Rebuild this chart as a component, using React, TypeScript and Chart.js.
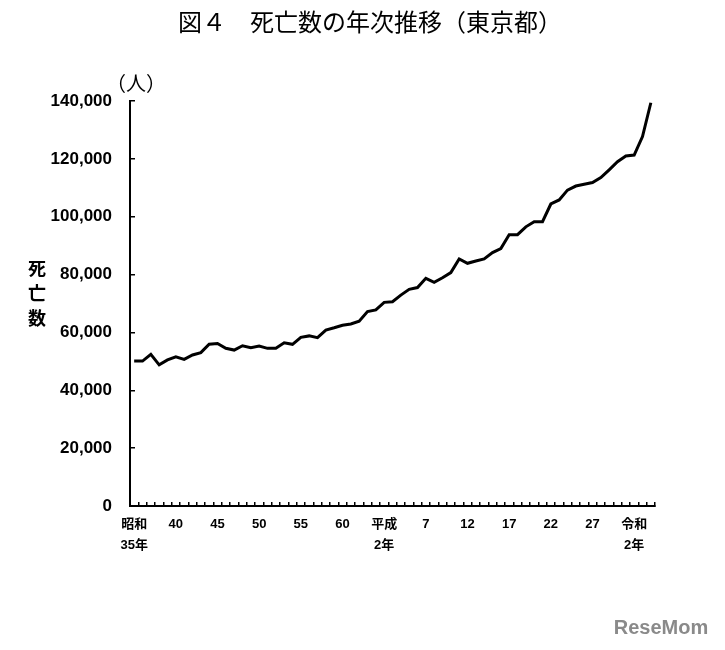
import { useEffect, useRef } from 'react';
import { Chart, registerables } from 'chart.js';

Chart.register(...registerables);

const years: string[] = [
  '1960', '1961', '1962', '1963', '1964', '1965', '1966', '1967', '1968', '1969',
  '1970', '1971', '1972', '1973', '1974', '1975', '1976', '1977', '1978', '1979',
  '1980', '1981', '1982', '1983', '1984', '1985', '1986', '1987', '1988', '1989',
  '1990', '1991', '1992', '1993', '1994', '1995', '1996', '1997', '1998', '1999',
  '2000', '2001', '2002', '2003', '2004', '2005', '2006', '2007', '2008', '2009',
  '2010', '2011', '2012', '2013', '2014', '2015', '2016', '2017', '2018', '2019',
  '2020', '2021', '2022',
];

const deaths: number[] = [
  50100, 50100, 52400, 48800, 50500, 51600, 50700, 52200, 53000, 55900,
  56200, 54500, 53900, 55400, 54700, 55300, 54500, 54500, 56400, 55900,
  58300, 58800, 58200, 60800, 61600, 62500, 62900, 63900, 67200, 67800,
  70400, 70600, 72900, 74900, 75500, 78700, 77300, 78900, 80700, 85400,
  83900, 84700, 85400, 87600, 89000, 93800, 93800, 96500, 98300, 98300,
  104400, 105800, 109200, 110600, 111200, 111800, 113500, 116200, 119000, 121000,
  121300, 127700, 139400,
];

const xTickLabels: (string | string[])[] = [
  ['昭和', '35年'], '', '', '', '', '40', '', '', '', '',
  '45', '', '', '', '', '50', '', '', '', '',
  '55', '', '', '', '', '60', '', '', '', '',
  ['平成', '2年'], '', '', '', '', '7', '', '', '', '',
  '12', '', '', '', '', '17', '', '', '', '',
  '22', '', '', '', '', '27', '', '', '', '',
  ['令和', '2年'], '', '',
];

const Y_MIN = 0;
const Y_MAX = 140000;
const Y_STEP = 20000;

const TITLE = '図４　死亡数の年次推移（東京都）';
const UNIT_LABEL = '（人）';
const Y_TITLE_CHARS = ['死', '亡', '数'];
const WATERMARK = 'ReseMom';

const LATIN = '"Liberation Sans", Arial, "Noto Sans CJK JP", sans-serif';
const CJK = '"Noto Sans CJK JP", sans-serif';

const textPlugin = {
  id: 'extraTexts',
  afterDraw(chart: any) {
    const { ctx, chartArea } = chart;
    ctx.save();
    ctx.fillStyle = '#000';
    ctx.textAlign = 'center';
    ctx.textBaseline = 'middle';
    ctx.font = `24px ${CJK}`;
    ctx.fillText(TITLE, 370, 22);

    ctx.font = `20px ${CJK}`;
    ctx.fillText(UNIT_LABEL, chartArea.left + 6, chartArea.top - 18);

    ctx.font = `bold 18px ${CJK}`;
    Y_TITLE_CHARS.forEach((ch, i) => {
      ctx.fillText(ch, 37, 268 + i * 25);
    });

    ctx.fillStyle = '#8a8a8a';
    ctx.font = `bold 20px ${LATIN}`;
    ctx.fillText(WATERMARK, 661, 628);
    ctx.restore();
  },
};

export default function App() {
  const canvasRef = useRef<HTMLCanvasElement | null>(null);

  useEffect(() => {
    document.body.style.margin = '0';
    const canvas = canvasRef.current;
    if (!canvas) return;
    const chart = new Chart(canvas, {
      type: 'line',
      data: {
        labels: years,
        datasets: [
          {
            data: deaths,
            borderColor: '#000',
            borderWidth: 3,
            pointRadius: 0,
            tension: 0,
            fill: false,
          },
        ],
      },
      options: {
        animation: false,
        responsive: false,
        devicePixelRatio: 1,
        layout: { padding: { left: 0, right: 70, top: 101, bottom: 84 } },
        plugins: {
          legend: { display: false },
          title: { display: false },
          tooltip: { enabled: false },
        },
        scales: {
          x: {
            type: 'category',
            offset: true,
            grid: {
              offset: true,
              drawOnChartArea: false,
              drawTicks: true,
              tickLength: -4,
              color: '#000',
              lineWidth: 1.5,
            },
            border: { display: true, color: '#000', width: 2 },
            ticks: {
              autoSkip: false,
              maxRotation: 0,
              minRotation: 0,
              padding: 12,
              color: '#000',
              font: { family: LATIN, size: 13, weight: 'bold', lineHeight: 1.6 },
              callback: (_v: any, i: number) => xTickLabels[i],
            },
            afterFit: (s: any) => {
              s.height = 60;
            },
          },
          y: {
            min: Y_MIN,
            max: Y_MAX,
            grid: {
              drawOnChartArea: false,
              drawTicks: true,
              tickLength: -5,
              color: '#000',
              lineWidth: 1.5,
            },
            border: { display: true, color: '#000', width: 2 },
            ticks: {
              stepSize: Y_STEP,
              padding: 23,
              color: '#000',
              font: { family: LATIN, size: 17, weight: 'bold' },
              callback: (v: any) => Number(v).toLocaleString('en-US'),
            },
            afterFit: (s: any) => {
              s.width = 130;
            },
          },
        },
      },
      plugins: [textPlugin],
    } as any);
    return () => chart.destroy();
  }, []);

  return <canvas ref={canvasRef} width={725} height={650} style={{ display: 'block' }} />;
}
